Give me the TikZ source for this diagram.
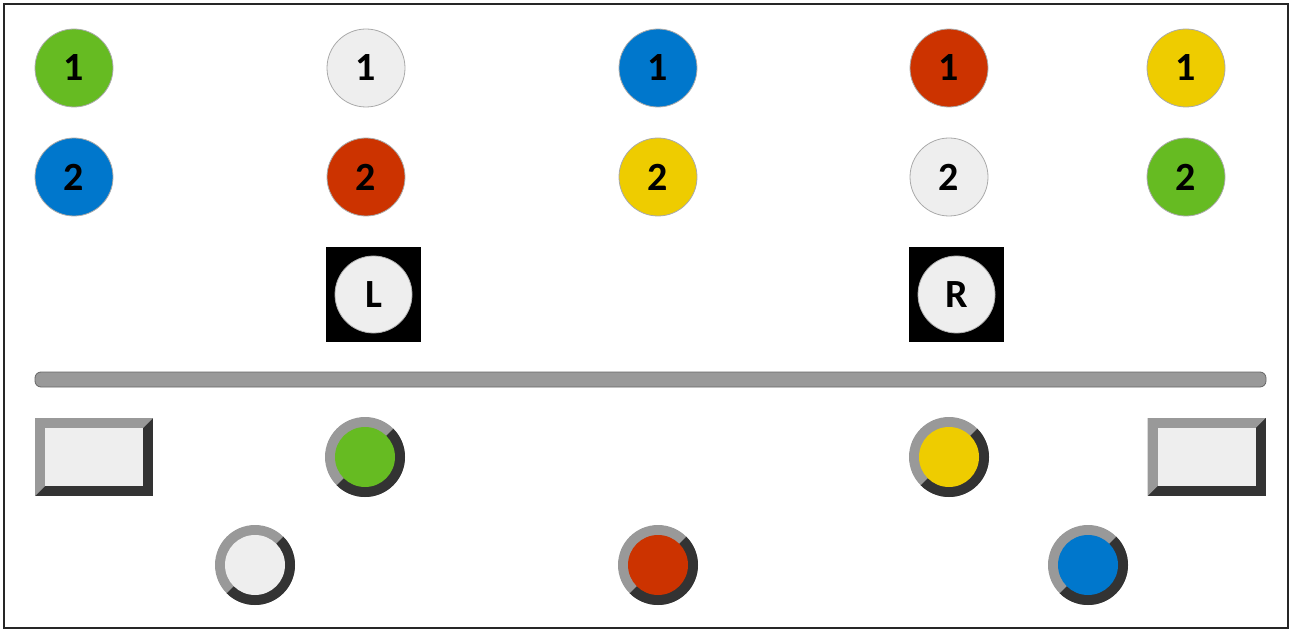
\documentclass[tikz,border=0pt]{standalone}
\usepackage{fontspec}
\setsansfont{Carlito}
\definecolor{cgreen}{HTML}{66BB22}
\definecolor{cblue}{HTML}{0077CC}
\definecolor{cred}{HTML}{CC3300}
\definecolor{cyellow}{HTML}{EECC00}
\definecolor{cwhite}{HTML}{EEEEEE}
\definecolor{rgray}{HTML}{999999}
\definecolor{rdark}{HTML}{333333}
\definecolor{cedge}{HTML}{AAAAAA}
\begin{document}
\begin{tikzpicture}[x=1pt,y=1pt,
  ball/.style={circle, minimum size=78pt, inner sep=0pt, fill=#1, draw=cedge, line width=0.8pt,
    font=\sffamily\bfseries\fontsize{40}{40}\selectfont, text=black},
  ring/.style={circle, minimum size=80pt, inner sep=0pt, fill=rgray,
    path picture={
      \fill[rdark] (path picture bounding box.center) ++(45:60pt) -- ++(-45:85pt) -- ++(-135:120pt) -- ++(135:85pt) -- cycle;
      \fill[#1] (path picture bounding box.center) circle (30pt);}},
  blackbox/.style={rectangle, minimum size=95pt, inner sep=0pt, fill=black},
  knob/.style={circle, minimum size=77pt, inner sep=0pt, fill=cwhite, draw=gray!60, line width=0.8pt,
    font=\sffamily\bfseries\fontsize{40}{40}\selectfont, text=black},
  bevel/.style={rectangle, minimum width=118pt, minimum height=78pt, inner sep=0pt, fill=rdark,
    path picture={
      \fill[rgray] (path picture bounding box.north west) -- (path picture bounding box.north east)
        -- ([shift={(-10pt,-10pt)}]path picture bounding box.north east)
        -- ([shift={(10pt,10pt)}]path picture bounding box.south west)
        -- (path picture bounding box.south west) -- cycle;
      \fill[cwhite] ([shift={(10pt,-10pt)}]path picture bounding box.north west) rectangle
        ([shift={(-10pt,10pt)}]path picture bounding box.south east);}},
  bar/.style={rectangle, rounded corners=6pt, minimum width=1231pt, minimum height=15pt, inner sep=0pt,
    fill=rgray, draw=gray!80!black, line width=0.8pt},
  frame/.style={draw=black!85, line width=2pt}
]
\useasboundingbox (0,0) rectangle (1292,630);
\draw[frame] (4,2) rectangle (1288,626);

% top row
\node[ball=cgreen] (a1) at (74,562) {1};
\node[ball=cwhite] (b1) at (366,562) {1};
\node[ball=cblue] (c1) at (658,562) {1};
\node[ball=cred] (d1) at (949,562) {1};
\node[ball=cyellow] (e1) at (1186,562) {1};
% second row
\node[ball=cblue] (a2) at (74,453) {2};
\node[ball=cred] (b2) at (366,453) {2};
\node[ball=cyellow] (c2) at (658,453) {2};
\node[ball=cwhite] (d2) at (949,453) {2};
\node[ball=cgreen] (e2) at (1186,453) {2};

% L / R
\node[blackbox] (lbox) at (373.5,335.5) {};
\node[knob] (lknob) at (lbox.center) {L};
\node[blackbox] (rbox) at (956.5,335.5) {};
\node[knob] (rknob) at (rbox.center) {R};

% bar
\node[bar] (bar) at (650.5,250.5) {};

% bevel rectangles
\node[bevel] (lrect) at (94,173) {};
\node[bevel] (rrect) at (1206.5,173) {};

% rings
\node[ring=cgreen] (rg) at (365,173) {};
\node[ring=cyellow] (ry) at (949,173) {};
\node[ring=cwhite] (rw) at (255,65) {};
\node[ring=cred] (rr) at (658,65) {};
\node[ring=cblue] (rb) at (1088,65) {};
\end{tikzpicture}
\end{document}
